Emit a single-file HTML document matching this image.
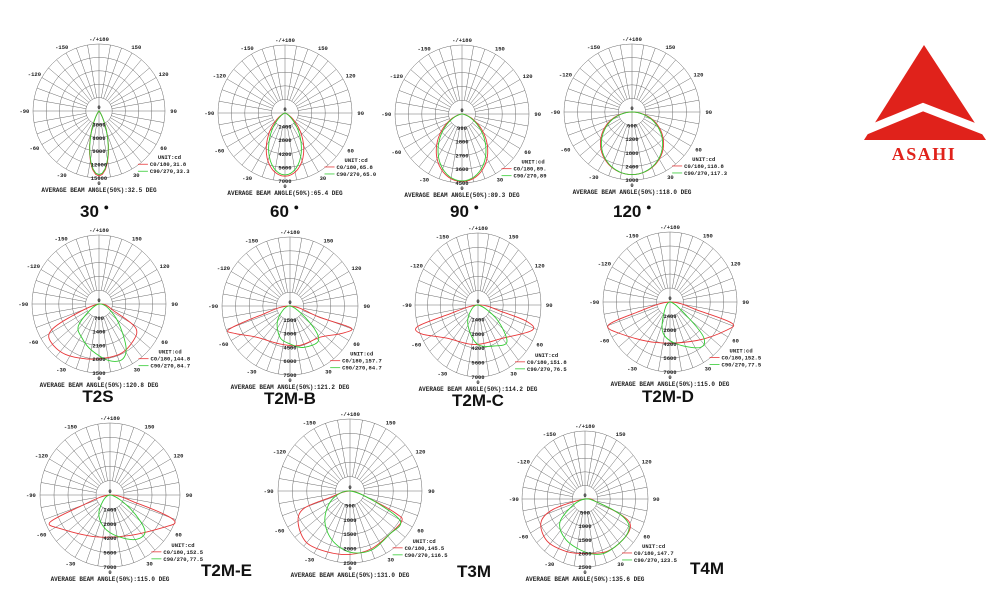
<!DOCTYPE html>
<html><head><meta charset="utf-8"><style>
html,body{margin:0;padding:0;background:#fff;}
svg{display:block;}
.big{font-family:"Liberation Sans",sans-serif;font-weight:bold;font-size:17px;fill:#111;}
</style></head><body>
<svg id="s" width="1000" height="600" viewBox="0 0 1000 600" xmlns="http://www.w3.org/2000/svg">
<rect width="1000" height="600" fill="#fff"/>
<g id="g"></g>
<polygon points="924,45 864,140 986,140" fill="#e0221b"/>
<polyline points="860,133 923,107 990,133" fill="none" stroke="#fff" stroke-width="8"/>
<text x="924" y="160" text-anchor="middle" font-family="Liberation Serif,serif" font-weight="bold" font-size="18" letter-spacing="1.5" fill="#e0221b">ASAHI</text>
<text class="big" x="80" y="217">30 <tspan font-size="9" dy="-7">●</tspan></text>
<text class="big" x="270" y="217">60 <tspan font-size="9" dy="-7">●</tspan></text>
<text class="big" x="450" y="217">90 <tspan font-size="9" dy="-7">●</tspan></text>
<text class="big" x="613" y="217">120 <tspan font-size="9" dy="-7">●</tspan></text>
<text class="big" x="98" y="402" text-anchor="middle">T2S</text>
<text class="big" x="290" y="404" text-anchor="middle">T2M-B</text>
<text class="big" x="478" y="406" text-anchor="middle">T2M-C</text>
<text class="big" x="668" y="402" text-anchor="middle">T2M-D</text>
<text class="big" x="201" y="576">T2M-E</text>
<text class="big" x="457" y="577">T3M</text>
<text class="big" x="690" y="574">T4M</text>
</svg>
<script>
function cosCurve(beam,max,sx){var n=Math.log(0.5)/Math.log(Math.cos(beam/2*Math.PI/180));var p=[];for(var a=-90;a<=90;a+=3){var t=a*Math.PI/180;var r=max*Math.pow(Math.cos(t),n);p.push([r*Math.sin(t)*(sx||1),r*Math.cos(t)]);}return {pts:p,poly:true};}
var C=[
{cx:99,cy:111,rx:66,ry:67,v:[3000,6000,9000,12000,15000],red:cosCurve(31.8,0.97,1.05),green:cosCurve(33.3,0.95,1),l1:"C0/180,31.8",l2:"C90/270,33.3",avg:"32.5"},
{cx:285,cy:113,rx:67,ry:68,v:[1400,2800,4200,5600,7000],red:cosCurve(65.8,0.93,1.05),green:cosCurve(65,0.91,0.95),l1:"C0/180,65.8",l2:"C90/270,65.0",avg:"65.4"},
{cx:462,cy:114,rx:67,ry:69,v:[900,1800,2700,3600,4500],red:cosCurve(89,0.98,1.03),green:cosCurve(89,0.97,0.97),l1:"C0/180,89.",l2:"C90/270,89",avg:"89.3"},
{cx:632,cy:112,rx:68,ry:68,v:[600,1200,1800,2400,3000],red:cosCurve(118.8,0.92,1.02),green:cosCurve(117.3,0.92,1),l1:"C0/180,118.8",l2:"C90/270,117.3",avg:"118.0"},
{cx:99,cy:304,rx:67,ry:69,v:[700,1400,2100,2800,3500],
 red:[[0,0],[-0.45,0.2],[-0.72,0.39],[-0.72,0.55],[-0.5,0.73],[-0.1,0.8],[0.3,0.73],[0.5,0.55],[0.55,0.35],[0.25,0.12]],
 green:[[0,0],[-0.3,0.3],[-0.25,0.5],[-0.1,0.68],[0.15,0.82],[0.35,0.8],[0.4,0.6],[0.25,0.2]],l1:"C0/180,144.8",l2:"C90/270,84.7",avg:"120.8"},
{cx:290,cy:306,rx:68,ry:69,v:[1500,3000,4500,6000,7500],
 red:[[0,0],[-0.45,0.14],[-0.9,0.34],[-0.8,0.4],[-0.5,0.45],[-0.15,0.55],[0.15,0.57],[0.45,0.45],[0.75,0.4],[0.9,0.32],[0.45,0.17]],
 green:[[0,0],[-0.18,0.2],[-0.15,0.45],[0,0.55],[0.2,0.6],[0.42,0.5],[0.3,0.25]],l1:"C0/180,157.7",l2:"C90/270,84.7",avg:"121.2"},
{cx:478,cy:305,rx:63,ry:72,v:[1400,2800,4200,5600,7000],
 red:[[0,0],[-0.5,0.14],[-0.96,0.3],[-0.9,0.4],[-0.5,0.46],[-0.05,0.55],[0.4,0.46],[0.86,0.35],[0.78,0.23],[0.4,0.1]],
 green:[[0,0],[-0.15,0.15],[-0.14,0.35],[0,0.55],[0.25,0.57],[0.46,0.51],[0.3,0.2]],l1:"C0/180,151.8",l2:"C90/270,76.5",avg:"114.2"},
{cx:670,cy:302,rx:67,ry:70,v:[1400,2800,4200,5600,7000],
 red:[[0,0],[-0.5,0.15],[-0.92,0.33],[-0.75,0.45],[-0.2,0.58],[0.4,0.55],[0.85,0.4],[0.92,0.3],[0.45,0.13]],
 green:[[0,0],[-0.1,0.2],[-0.1,0.45],[0.1,0.6],[0.45,0.65],[0.5,0.5],[0.25,0.2]],l1:"C0/180,152.5",l2:"C90/270,77.5",avg:"115.0"},
{cx:110,cy:495,rx:70,ry:72,v:[1400,2800,4200,5600,7000],
 red:[[0,0],[-0.45,0.17],[-0.86,0.38],[-0.7,0.47],[-0.2,0.58],[0.3,0.56],[0.8,0.44],[0.93,0.38],[0.8,0.28],[0.4,0.12]],
 green:[[0,0],[-0.15,0.2],[-0.12,0.4],[0.05,0.55],[0.35,0.62],[0.5,0.5],[0.3,0.2]],l1:"C0/180,152.5",l2:"C90/270,77.5",avg:"115.0"},
{cx:350,cy:491,rx:72,ry:72,v:[500,1000,1500,2000,2500],
 red:[[0,0],[-0.3,0.1],[-0.65,0.25],[-0.72,0.45],[-0.6,0.72],[-0.3,0.85],[0,0.88],[0.3,0.8],[0.55,0.6],[0.72,0.42],[0.65,0.32],[0.3,0.12]],
 green:[[0,0],[-0.25,0.12],[-0.35,0.4],[-0.25,0.68],[0,0.85],[0.3,0.82],[0.55,0.6],[0.7,0.42],[0.35,0.15]],l1:"C0/180,145.5",l2:"C90/270,116.5",avg:"131.0"},
{cx:585,cy:499,rx:63,ry:68,v:[500,1000,1500,2000,2500],
 red:[[0,0],[-0.5,0.15],[-0.7,0.35],[-0.6,0.62],[-0.3,0.77],[0,0.8],[0.35,0.77],[0.6,0.6],[0.72,0.4],[0.6,0.25],[0.2,0.05]],
 green:[[0,0],[-0.2,0.1],[-0.4,0.35],[-0.3,0.6],[0,0.78],[0.3,0.8],[0.6,0.6],[0.7,0.4],[0.55,0.22],[0.2,0.05]],l1:"C0/180,147.7",l2:"C90/270,123.5",avg:"135.6"}
];
function smooth(p){var n=p.length,d="M"+p[0][0].toFixed(1)+","+p[0][1].toFixed(1);
for(var i=0;i<n;i++){var p0=p[(i-1+n)%n],p1=p[i],p2=p[(i+1)%n],p3=p[(i+2)%n];
var c1=[p1[0]+(p2[0]-p0[0])/6,p1[1]+(p2[1]-p0[1])/6],c2=[p2[0]-(p3[0]-p1[0])/6,p2[1]-(p3[1]-p1[1])/6];
d+="C"+c1[0].toFixed(1)+","+c1[1].toFixed(1)+" "+c2[0].toFixed(1)+","+c2[1].toFixed(1)+" "+p2[0].toFixed(1)+","+p2[1].toFixed(1);}
return d+"Z";}
var h="";
C.forEach(function(c){
 var cx=c.cx,cy=c.cy,rx=c.rx,ry=c.ry,g='<g stroke="#6a6a6a" stroke-width="0.5" fill="none">';
 for(var k=1;k<=5;k++)g+='<ellipse cx="'+cx+'" cy="'+cy+'" rx="'+(rx*k/5)+'" ry="'+(ry*k/5)+'"/>';
 for(var a=0;a<360;a+=10){var t=a*Math.PI/180,s=Math.sin(t),co=Math.cos(t);var r0=(a%90==0)?0:0.2;
  g+='<line x1="'+(cx+s*rx*r0).toFixed(1)+'" y1="'+(cy+co*ry*r0).toFixed(1)+'" x2="'+(cx+s*rx).toFixed(1)+'" y2="'+(cy+co*ry).toFixed(1)+'"/>';}
 g+='</g>';
 var ff='font-family="Liberation Mono,monospace" font-size="5.5" fill="#222" font-weight="bold"';
 var lab={0:"0",30:"30",60:"60",90:"90",120:"120",150:"150",180:"-/+180","-30":"-30","-60":"-60","-90":"-90","-120":"-120","-150":"-150"};
 for(var key in lab){var t=(+key)*Math.PI/180;var x=cx+Math.sin(t)*rx*1.13,y=cy+Math.cos(t)*ry*1.1+2;
  if(key=="0")y=cy+ry+7;if(key=="180")y=cy-ry-3;
  g+='<text x="'+x.toFixed(1)+'" y="'+y.toFixed(1)+'" text-anchor="middle" '+ff+'>'+lab[key]+'</text>';}
 function path(cv){var pts=cv.pts?cv.pts:cv;return pts.map(function(q){return [cx+q[0]*rx,cy+q[1]*ry];});}
 function pd(cv){var p=path(cv);if(cv.poly){return "M"+p.map(function(q){return q[0].toFixed(1)+","+q[1].toFixed(1)}).join("L")+"Z";}return smooth(p);}
 g+='<path d="'+pd(c.red)+'" fill="none" stroke="#e8383a" stroke-width="0.9"/>';
 g+='<path d="'+pd(c.green)+'" fill="none" stroke="#33cc33" stroke-width="0.9"/>';
 g+='<text x="'+cx+'" y="'+(cy-2)+'" text-anchor="middle" '+ff+'>0</text>';
 for(var k=1;k<=5;k++)g+='<text x="'+cx+'" y="'+(cy+ry*k/5+2).toFixed(1)+'" text-anchor="middle" '+ff+'>'+c.v[k-1]+'</text>';
 var lx=cx+0.62*rx,ly=cy+0.72*ry;
 g+='<text x="'+(lx+18)+'" y="'+ly.toFixed(1)+'" '+ff+'>UNIT:cd</text>';
 g+='<line x1="'+(lx-2)+'" y1="'+(ly+5)+'" x2="'+(lx+8)+'" y2="'+(ly+5)+'" stroke="#e8383a" stroke-width="0.8"/>';
 g+='<text x="'+(lx+10)+'" y="'+(ly+7)+'" '+ff+' font-weight="normal">'+c.l1+'</text>';
 g+='<line x1="'+(lx-2)+'" y1="'+(ly+12)+'" x2="'+(lx+8)+'" y2="'+(ly+12)+'" stroke="#33cc33" stroke-width="0.8"/>';
 g+='<text x="'+(lx+10)+'" y="'+(ly+14)+'" '+ff+' font-weight="normal">'+c.l2+'</text>';
 g+='<text x="'+cx+'" y="'+(cy+ry+14)+'" text-anchor="middle" font-family="Liberation Mono,monospace" font-size="6" font-weight="bold" fill="#222">AVERAGE BEAM ANGLE(50%):'+c.avg+' DEG</text>';
 h+=g;
});
document.getElementById("g").innerHTML=h;
</script>
</body></html>
